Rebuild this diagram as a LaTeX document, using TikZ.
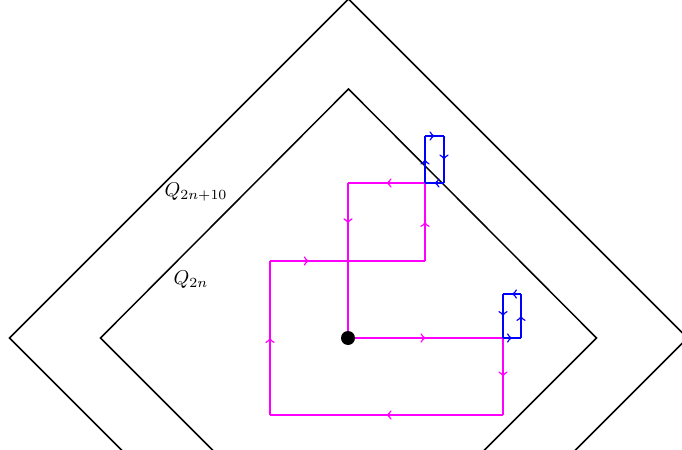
\documentclass[tikz,border=0pt]{standalone}
\usetikzlibrary{decorations.markings}
\definecolor{pmag}{RGB}{255,0,255}
\definecolor{pblue}{RGB}{0,0,255}
\tikzset{
  frame/.style={draw=black, line width=0.75pt},
  mpath/.style={draw=pmag, line width=0.75pt},
  bpath/.style={draw=pblue, line width=0.75pt},
  arrowat/.style={postaction={decorate, decoration={markings, mark=at position #1 with {\arrow{to}}}}},
  midarrow/.style={arrowat=0.5},
}
\begin{document}
\begin{tikzpicture}[x=0.5pt,y=-0.5pt]
\useasboundingbox (0,0) rectangle (682,450);
\clip (0,0) rectangle (682,450);
% diamonds
\coordinate (c) at (348.5,338);
\draw[frame] (348.5,-1) -- (687.5,338) -- (348.5,677) -- (9.5,338) -- cycle;
\draw[frame] (348.5,89) -- (596.5,338) -- (348.5,586) -- (100.5,338) -- cycle;
\node (q1) at (196,192) {$Q_{2n+10}$};
\node (q2) at (191,280) {$Q_{2n}$};
% path points
\coordinate (O) at (348,338);
\coordinate (B) at (503,338);
\coordinate (B1) at (521,338);
\coordinate (B2) at (521,294);
\coordinate (B3) at (503,294);
\coordinate (C) at (503,415);
\coordinate (D) at (270,415);
\coordinate (E) at (270,261);
\coordinate (F) at (425,261);
\coordinate (G) at (425,183);
\coordinate (G1) at (425,136);
\coordinate (G2) at (444,136);
\coordinate (G3) at (444,183);
\coordinate (H) at (348,183);
% magenta path
\draw[mpath, midarrow] (O) -- (B);
\draw[mpath, midarrow] (B) -- (C);
\draw[mpath, midarrow] (C) -- (D);
\draw[mpath, midarrow] (D) -- (E);
\draw[mpath, arrowat=0.25] (E) -- (F);
\draw[mpath, midarrow] (F) -- (G);
\draw[mpath, midarrow] (G) -- (H);
\draw[mpath, arrowat=0.26] (H) -- (O);
% blue loops
\draw[bpath, midarrow] (B) -- (B1);
\draw[bpath, midarrow] (B1) -- (B2);
\draw[bpath, midarrow] (B2) -- (B3);
\draw[bpath, midarrow] (B3) -- (B);
\draw[bpath, midarrow] (G) -- (G1);
\draw[bpath, midarrow] (G1) -- (G2);
\draw[bpath, midarrow] (G2) -- (G3);
\draw[bpath, midarrow] (G3) -- (G);
\fill[black] (O) circle (3.5pt);
\end{tikzpicture}
\end{document}
